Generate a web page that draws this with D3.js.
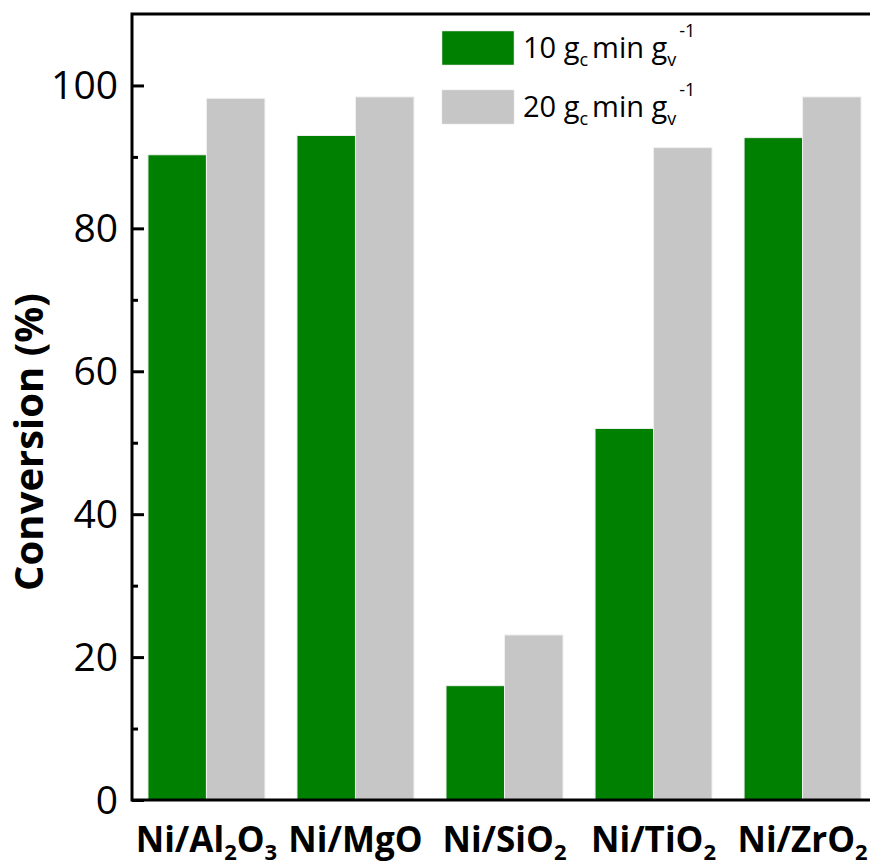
<!DOCTYPE html>
<html>
<head>
<meta charset="utf-8">
<script src="https://cdn.jsdelivr.net/npm/d3@7"></script>
<style>
  body { margin: 0; background: #fff; }
  svg { display: block; font-family: "Open Sans", sans-serif; }
</style>
</head>
<body>
<div id="container"></div>
<script>
// catalysts on the x axis, parts split for subscripts
const categories = ['Al2O3', 'MgO', 'SiO2', 'TiO2', 'ZrO2']
const labelParts = [
    [['Ni/Al', 0], ['2', 1], ['O', 0], ['3', 1]],
    [['Ni/MgO', 0]],
    [['Ni/SiO', 0], ['2', 1]],
    [['Ni/TiO', 0], ['2', 1]],
    [['Ni/ZrO', 0], ['2', 1]]
]
const series = ['10', '20']
const conv10 = [90.3, 93.0, 16.0, 52.0, 92.7]
const conv20 = [98.2, 98.4, 23.1, 91.3, 98.4]
const majorTicks = [0, 20, 40, 60, 80, 100]
const minorTicks = [10, 30, 50, 70, 90]

const width = 870
const height = 866
const margin = { top: 14, right: -7, bottom: 66, left: 132 }
const colors = ['#008000', '#c6c6c6']

const svg = d3.select('#container')
    .append('svg')
    .attr('width', width)
    .attr('height', height)

const x0 = d3.scaleBand()
    .domain(categories)
    .range([margin.left, width - margin.right])
    .paddingInner(0.215)
    .paddingOuter(0.107)

const x1 = d3.scaleBand()
    .domain(series)
    .range([0, x0.bandwidth()])

const yScale = d3.scaleLinear()
    .domain([0, 110])
    .range([height - margin.bottom, margin.top])

const data = categories.map((c, i) => ({ cat: c, vals: [conv10[i], conv20[i]] }))

// bars
const groups = svg.selectAll('g.group').data(data)
    .join('g')
    .attr('class', 'group')
    .attr('transform', d => `translate(${x0(d.cat)}, 0)`)

groups.selectAll('rect')
    .data(d => d.vals.map((v, j) => ({ key: series[j], v, j })))
    .join('rect')
    .attr('x', d => x1(d.key))
    .attr('width', x1.bandwidth())
    .attr('y', d => yScale(d.v))
    .attr('height', d => yScale(0) - yScale(d.v))
    .attr('fill', d => colors[d.j])
    .attr('stroke', '#f0f0f0')
    .attr('stroke-width', 1)

// frame
svg.append('rect')
    .attr('x', margin.left)
    .attr('y', margin.top)
    .attr('width', width - margin.right - margin.left)
    .attr('height', yScale(0) - margin.top)
    .attr('fill', 'none')
    .attr('stroke', '#000')
    .attr('stroke-width', 3)

// y axis, ticks pointing inward
const yAxis = d3.axisLeft(yScale)
    .tickValues(majorTicks)
    .tickSize(-12)
    .tickPadding(14)
svg.append('g')
    .attr('id', 'y-axis')
    .attr('transform', `translate(${margin.left}, 0)`)
    .call(yAxis)
    .call(g => g.select('.domain').remove())
    .call(g => g.selectAll('line').attr('stroke-width', 3))
    .call(g => g.selectAll('text')
        .attr('font-size', 39)
        .attr('font-family', '"Open Sans", sans-serif')
        .attr('fill', '#000')
        .attr('dy', '0.34em'))

svg.append('g')
    .attr('transform', `translate(${margin.left}, 0)`)
    .call(d3.axisLeft(yScale).tickValues(minorTicks).tickSize(-6).tickFormat(''))
    .call(g => g.select('.domain').remove())
    .call(g => g.selectAll('line').attr('stroke-width', 3))

// x labels with subscripts
const subDrop = 8
const xl = svg.append('g').attr('id', 'x-labels')
labelParts.forEach((parts, i) => {
    const t = xl.append('text')
        .attr('x', x0(categories[i]) + x0.bandwidth() / 2)
        .attr('y', 852)
        .attr('text-anchor', 'middle')
        .attr('font-weight', 'bold')
        .attr('font-size', 35)
    let cur = 0
    parts.forEach(([s, sub]) => {
        const target = sub ? subDrop : 0
        t.append('tspan')
            .attr('font-size', sub ? 22 : 35)
            .attr('dy', target - cur)
            .text(s)
        cur = target
    })
})

// y title
svg.append('text')
    .attr('transform', `translate(43, 442) rotate(-90)`)
    .attr('text-anchor', 'middle')
    .attr('font-weight', 'bold')
    .attr('font-size', 40)
    .text('Conversion (%)')

// legend
const legend = svg.append('g').attr('id', 'legend')
series.forEach((s, i) => {
    const row = legend.append('g')
        .attr('transform', `translate(442, ${31 + i * 59})`)
    row.append('rect')
        .attr('width', 72)
        .attr('height', 34)
        .attr('fill', colors[i])
        .attr('stroke', '#e0e0e0')
        .attr('stroke-width', 0.5)
    const t = row.append('text')
        .attr('x', 81)
        .attr('y', 27)
        .attr('font-size', 29)
    t.append('tspan').text(s + ' g')
    t.append('tspan').attr('font-size', 18).attr('dy', 8).text('c')
    t.append('tspan').attr('dy', -8).attr('dx', 4).text('min g')
    t.append('tspan').attr('font-size', 18).attr('dy', 8).text('v')
    t.append('tspan').attr('font-size', 18).attr('dx', 3).attr('dy', -29).text('-1')
})
</script>
</body>
</html>
